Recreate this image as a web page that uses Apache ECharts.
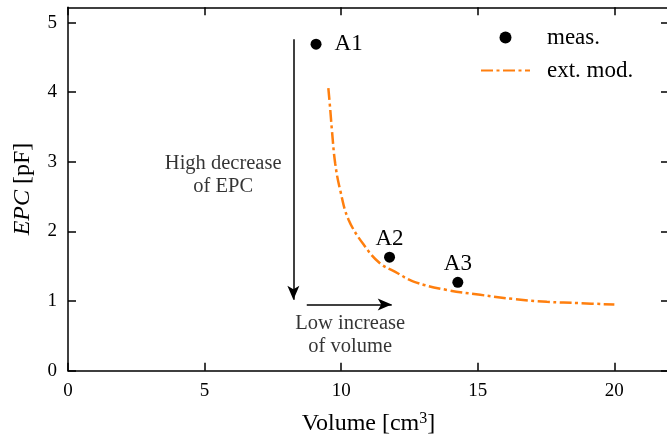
<!DOCTYPE html>
<html><head><meta charset="utf-8">
<script src="https://cdn.jsdelivr.net/npm/echarts@6/dist/echarts.min.js"></script>
<style>html,body{margin:0;padding:0;background:#fff}#c{width:667px;height:438px}</style>
</head><body><div id="c"></div>
<script>
// measured points
const measX = [9.08, 11.77, 14.27];
const measY = [4.69, 1.63, 1.27];
const measNames = ['A1', 'A2', 'A3'];
// extended model curve
const modX = [9.53, 9.6, 9.66, 9.78, 9.96, 10.27, 10.88, 11.43, 11.98, 12.65, 13.87, 15.09, 16.31, 17.53, 18.75, 20.0];
const modY = [4.06, 3.75, 3.46, 2.98, 2.60, 2.17, 1.78, 1.54, 1.42, 1.28, 1.16, 1.09, 1.03, 0.99, 0.97, 0.95];
// ticks
const xTicks = [0, 5, 10, 15, 20];
const yTicks = [0, 1, 2, 3, 4, 5];
// annotations
const annoText = ['High decrease\nof EPC', 'Low increase\nof volume'];
const annoX = [5.68, 10.33];
const annoY = [2.81, 0.51];
const arrowVX = [8.25, 8.25];
const arrowVY = [4.76, 1.02];
const arrowHX = [8.74, 11.85];
const arrowHY = [0.95, 0.95];

const FONT = 'Liberation Serif';
const BLACK = '#000';
const axisLine = { show: true, onZero: false, lineStyle: { color: BLACK, width: 1.5 } };
const tick = (vals) => ({ show: true, inside: true, length: 8, customValues: vals, lineStyle: { color: BLACK, width: 1.5 } });

const chart = echarts.init(document.getElementById('c'), null, { renderer: 'canvas' });
chart.setOption({
  animation: false,
  backgroundColor: '#fff',
  grid: { left: 68, top: 7.3, width: 601, height: 363.4, containLabel: false, outerBoundsMode: 'none' },
  legend: {
    data: [{ name: 'meas.', icon: 'circle' }, { name: 'ext. mod.', itemStyle: { opacity: 0 } }],
    orient: 'vertical', left: 475, top: 21,
    itemWidth: 49, itemHeight: 12, itemGap: 10,
    textStyle: { fontFamily: FONT, fontSize: 23, color: BLACK, padding: [0, 0, 0, 12] }
  },
  xAxis: [
    { type: 'value', min: 0, max: 22, position: 'bottom',
      axisLine, axisTick: tick(xTicks), splitLine: { show: false },
      axisLabel: { customValues: xTicks, margin: 11, fontFamily: FONT, fontSize: 19, color: BLACK },
      name: 'Volume [cm{s|3}]', nameLocation: 'middle', nameGap: 40,
      nameTextStyle: { fontFamily: FONT, fontSize: 24, color: BLACK,
        rich: { s: { fontFamily: FONT, fontSize: 16, color: BLACK, verticalAlign: 'top', padding: [0, 0, 10, 0] } } } },
    { type: 'value', min: 0, max: 22, position: 'top',
      axisLine, axisTick: tick(xTicks), splitLine: { show: false }, axisLabel: { show: false } }
  ],
  yAxis: [
    { type: 'value', min: 0, max: 5.22, position: 'left',
      axisLine, axisTick: tick(yTicks), splitLine: { show: false },
      axisLabel: { customValues: yTicks, margin: 11, fontFamily: FONT, fontSize: 19, color: BLACK },
      name: '{i|EPC} [pF]', nameLocation: 'middle', nameGap: 33,
      nameTextStyle: { fontFamily: FONT, fontSize: 24, color: BLACK,
        rich: { i: { fontFamily: FONT, fontSize: 24, fontStyle: 'italic', color: BLACK } } } },
    { type: 'value', min: 0, max: 5.22, position: 'right',
      axisLine, axisTick: tick(yTicks), splitLine: { show: false }, axisLabel: { show: false } }
  ],
  series: [
    { name: 'meas.', type: 'scatter', symbol: 'circle', symbolSize: 11,
      itemStyle: { color: BLACK, opacity: 1 },
      label: { show: true, formatter: p => p.name, fontFamily: FONT, fontSize: 23, color: BLACK },
      data: measX.map((x, i) => ({ value: [x, measY[i]], name: measNames[i],
        label: i === 0 ? { position: 'right', distance: 13 } : { position: 'top', distance: 1 } })) },
    { name: 'ext. mod.', type: 'line', smooth: 0.4, showSymbol: false, symbol: 'none',
      itemStyle: { color: '#ff7f0e' },
      lineStyle: { color: '#ff7f0e', width: 2.5, type: [12, 3.5, 3, 3.5] },
      data: modX.map((x, i) => [x, modY[i]]) },
    { name: 'anno', type: 'scatter', symbolSize: 1, silent: true,
      itemStyle: { color: 'transparent' },
      label: { show: true, position: 'inside', formatter: p => p.name,
        fontFamily: FONT, fontSize: 20.5, lineHeight: 23.5, color: BLACK, align: 'center' },
      data: annoX.map((x, i) => ({ value: [x, annoY[i]], name: annoText[i] })),
      markLine: { silent: true, symbol: ['none', 'arrow'], symbolSize: [9, 14], animation: false,
        label: { show: false }, lineStyle: { color: BLACK, width: 1.5, type: 'solid' },
        data: [
          [{ coord: [arrowVX[0], arrowVY[0]] }, { coord: [arrowVX[1], arrowVY[1]] }],
          [{ coord: [arrowHX[0], arrowHY[0]] }, { coord: [arrowHX[1], arrowHY[1]] }]
        ] } }
  ]
});
</script></body></html>
